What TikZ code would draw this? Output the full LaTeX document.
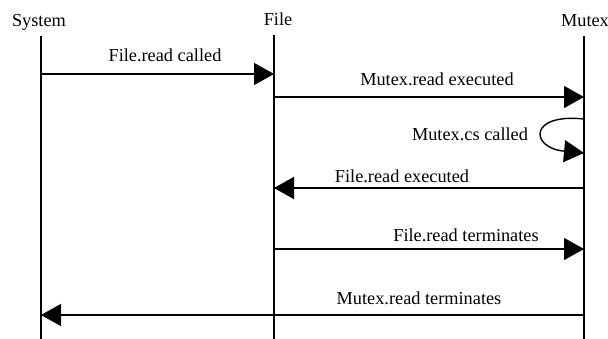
\documentclass[tikz,border=0pt]{standalone}
\usepackage{fontspec}
\setmainfont{Liberation Serif}
\usetikzlibrary{arrows.meta}
\begin{document}
\begin{tikzpicture}[x=1pt,y=-1pt,
  lifeline/.style={line width=1.6pt},
  msg/.style={line width=1.4pt,-{Triangle[length=20pt,width=22pt]}},
  lbl/.style={inner sep=0pt,anchor=base,font=\fontsize{18.3}{20}\selectfont},
]
\useasboundingbox (0,0) rectangle (608,339);

% participants
\node[lbl] (sys) at (39,27) {System};
\node[lbl] (file) at (278,26) {File};
\node[lbl] (mutex) at (585,27) {Mutex};

% lifelines
\coordinate (sysT) at (41,36);   \coordinate (sysB) at (41,339);
\coordinate (fileT) at (274,35); \coordinate (fileB) at (274,339);
\coordinate (mtxT) at (584,36);  \coordinate (mtxB) at (584,339);
\draw[lifeline] (sysT) -- (sysB);
\draw[lifeline] (fileT) -- (fileB);
\draw[lifeline] (mtxT) -- (mtxB);

% message end points
\coordinate (s1) at (41,74);   \coordinate (f1) at (274,74);
\coordinate (f2) at (274,97);  \coordinate (m2) at (584,97);
\coordinate (m3a) at (584,119); \coordinate (m3b) at (584,153);
\coordinate (m4) at (584,188); \coordinate (f4) at (274,188);
\coordinate (f5) at (274,249); \coordinate (m5) at (584,249);
\coordinate (m6) at (584,315); \coordinate (s6) at (41,315);

% messages
\draw[msg] (s1) -- (f1);
\draw[msg] (f2) -- (m2);
\draw[msg] (m3a) .. controls (528,113) and (530,148) .. (m3b);
\draw[msg] (m4) -- (f4);
\draw[msg] (f5) -- (m5);
\draw[msg] (m6) -- (s6);

% message labels
\node[lbl] (l1) at (165,62) {File.read called};
\node[lbl] (l2) at (437,86) {Mutex.read executed};
\node[lbl] (l3) at (470,141) {Mutex.cs called};
\node[lbl] (l4) at (402,183) {File.read executed};
\node[lbl] (l5) at (466,242) {File.read terminates};
\node[lbl] (l6) at (419,305) {Mutex.read terminates};
\end{tikzpicture}
\end{document}
